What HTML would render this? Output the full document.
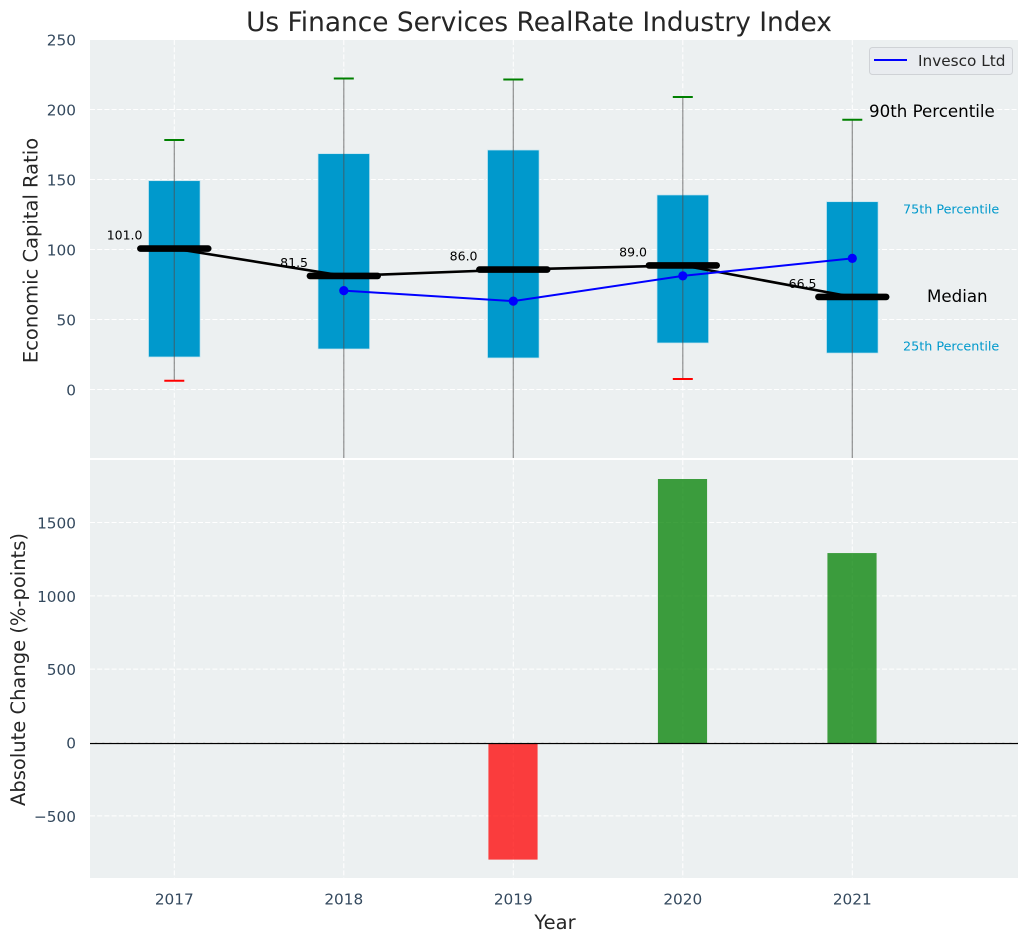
<!DOCTYPE html>
<html lang="en">
<head>
<meta charset="utf-8">
<title>Us Finance Services RealRate Industry Index</title>
<style>
html,body{margin:0;padding:0;background:#fff;}
svg{display:block;font-family:"DejaVu Sans","Liberation Sans",sans-serif;}
</style>
</head>
<body>
<svg id="chart" xmlns="http://www.w3.org/2000/svg" width="1029" height="942" viewBox="0 0 1029 942">
  <defs>
    <clipPath id="clip-top"><rect x="90" y="40" width="928" height="418"></rect></clipPath>
    <clipPath id="clip-bottom"><rect x="90" y="460" width="928" height="418"></rect></clipPath>
  </defs>
  <rect x="0" y="0" width="1029" height="942" fill="#ffffff"></rect>
  <rect x="90" y="40" width="928" height="418" fill="#ecf0f1"></rect>
  <rect x="90" y="460" width="928" height="418" fill="#ecf0f1"></rect>
  <g id="grid-top"></g>
  <g id="grid-bottom"></g>
  <g id="ticks"></g>
  <g id="boxes" clip-path="url(#clip-top)"></g>
  <g id="medians" clip-path="url(#clip-top)"></g>
  <g id="invesco" clip-path="url(#clip-top)"></g>
  <g id="median-labels"></g>
  <g id="bars" clip-path="url(#clip-bottom)"></g>
  <line x1="90" x2="1018" y1="743.5" y2="743.5" stroke="#000000" stroke-width="1.3"></line>

  <text x="539" y="31" text-anchor="middle" font-size="26.4" fill="#262626">Us Finance Services RealRate Industry Index</text>
  <text transform="translate(37.5,250.5) rotate(-90)" text-anchor="middle" font-size="19.5" fill="#262626">Economic Capital Ratio</text>
  <text transform="translate(25,669.5) rotate(-90)" text-anchor="middle" font-size="19.5" fill="#262626">Absolute Change (%-points)</text>
  <text x="555" y="929" text-anchor="middle" font-size="19.5" fill="#262626">Year</text>

  <text x="869" y="117" font-size="16.67" fill="#000000">90th Percentile</text>
  <text x="903" y="213.5" font-size="12.75" fill="#0099cc">75th Percentile</text>
  <text x="927" y="302" font-size="16.67" fill="#000000">Median</text>
  <text x="903" y="350.5" font-size="12.75" fill="#0099cc">25th Percentile</text>

  <g>
    <rect x="869.5" y="47.5" width="143" height="27" rx="3" ry="3" fill="#e9ecf0" stroke="#cfd2d6" stroke-width="1"></rect>
    <line x1="874" x2="907" y1="60" y2="60" stroke="#0000ff" stroke-width="2"></line>
    <text x="918" y="66" font-size="15.3" fill="#262626">Invesco Ltd</text>
  </g>
</svg>
<script>
const years = [2017, 2018, 2019, 2020, 2021];
const p90 = [178.6, 222.5, 221.8, 209.3, 193];
const p75 = [149.5, 168.8, 171.4, 139.3, 134.5];
const medianValues = [101.0, 81.5, 86.0, 89.0, 66.5];
const p25 = [23.6, 29.3, 22.9, 33.6, 26.4];
const p10 = [6.6, -90, -90, 7.9, -90];
const invescoYears = [2018, 2019, 2020, 2021];
const invescoValues = [71, 63.5, 81.5, 94];
const absoluteChange = [0, 0, -795, 1800, 1295];
const topTicks = [0, 50, 100, 150, 200, 250];
const bottomTicks = [-500, 0, 500, 1000, 1500];

const NS = 'http://www.w3.org/2000/svg';
const BOX_WIDTH = 0.304;
const BAR_WIDTH = 0.29;
const MEDIAN_WIDTH = 0.4;
const CAP_WIDTH = 0.118;

function xScale(v) { return 174.3 + (v - 2017) * 169.5; }
function yTop(v) { return 390 - v * 1.4; }
function yBottom(v) { return 743 - v * 0.14667; }

function make(tag, parentId, attrs, text) {
  const el = document.createElementNS(NS, tag);
  for (const k in attrs) el.setAttribute(k, attrs[k]);
  if (text !== undefined) el.textContent = text;
  document.getElementById(parentId).appendChild(el);
  return el;
}
const gridStyle = { stroke: '#ffffff', 'stroke-width': 1, 'stroke-dasharray': '5 2.2' };

topTicks.forEach(function (t) {
  const g = make('line', 'grid-top', Object.assign({ x1: 90, x2: 1018, y1: yTop(t) - 0.5, y2: yTop(t) - 0.5 }, gridStyle));
  
  
  const lab = make('text', 'ticks', { x: 76, y: yTop(t) + 5.5, 'text-anchor': 'end', 'font-size': 15.3, fill: '#34495e' }, String(t));
  
  
});

bottomTicks.forEach(function (t) {
  const g = make('line', 'grid-bottom', Object.assign({ x1: 90, x2: 1018, y1: yBottom(t) - 0.5, y2: yBottom(t) - 0.5 }, gridStyle));
  
  
  const lab = make('text', 'ticks', { x: 76, y: yBottom(t) + 5.5, 'text-anchor': 'end', 'font-size': 15.3, fill: '#34495e' }, String(t).replace('-', '\u2212'));
  
  
});

years.forEach(function (yr, i) {
  const x = xScale(yr);
  const g1 = make('line', 'grid-top', Object.assign({ x1: x, x2: x, y1: 40, y2: 458 }, gridStyle));
  
  
  const g2 = make('line', 'grid-bottom', Object.assign({ x1: x, x2: x, y1: 460, y2: 878 }, gridStyle));
  
  
  const lab = make('text', 'ticks', { x: x, y: 904.5, 'text-anchor': 'middle', 'font-size': 15.3, fill: '#34495e' }, String(yr));
  
  

  const half = BOX_WIDTH / 2;
  const box = make('rect', 'boxes', {
    x: xScale(yr - half), y: yTop(p75[i]),
    width: xScale(yr + half) - xScale(yr - half),
    height: yTop(p25[i]) - yTop(p75[i]),
    fill: '#0099cc', stroke: '#bfe3ef', 'stroke-width': 0.7
  });
  
  

  const whisker = make('line', 'boxes', { x1: x, x2: x, y1: yTop(p90[i]), y2: yTop(p10[i]), stroke: '#4d4d4d', 'stroke-width': 1.2, 'stroke-opacity': 0.62 });
  
  

  const capHigh = make('line', 'boxes', { x1: xScale(yr - CAP_WIDTH / 2), x2: xScale(yr + CAP_WIDTH / 2), y1: yTop(p90[i]), y2: yTop(p90[i]), stroke: '#008000', 'stroke-width': 2 });
  
  

  const capLow = make('line', 'boxes', { x1: xScale(yr - CAP_WIDTH / 2), x2: xScale(yr + CAP_WIDTH / 2), y1: yTop(p10[i]), y2: yTop(p10[i]), stroke: '#ff0000', 'stroke-width': 2 });
  
  

  const medBar = make('line', 'medians', {
    x1: xScale(yr - MEDIAN_WIDTH / 2), x2: xScale(yr + MEDIAN_WIDTH / 2),
    y1: yTop(medianValues[i]), y2: yTop(medianValues[i]),
    stroke: '#000000', 'stroke-width': 6.6, 'stroke-linecap': 'round'
  });
  
  

  const medLab = make('text', 'median-labels', { x: x - 49.7, y: yTop(medianValues[i]) - 9, 'text-anchor': 'middle', 'font-size': 12.5, fill: '#000000' }, medianValues[i].toFixed(1));
  
  

  if (absoluteChange[i] !== 0) {
    const top = Math.min(yBottom(absoluteChange[i]), yBottom(0));
    const bar = make('rect', 'bars', {
      x: xScale(yr - BAR_WIDTH / 2) - 0.3, y: top,
      width: xScale(yr + BAR_WIDTH / 2) - xScale(yr - BAR_WIDTH / 2),
      height: Math.abs(yBottom(absoluteChange[i]) - yBottom(0)),
      fill: absoluteChange[i] > 0 ? '#008000' : '#ff0000', 'fill-opacity': 0.75
    });
    
    
  }
});

const medianLine = make('polyline', 'medians', {
  points: years.map(function (yr, i) { return xScale(yr) + ',' + yTop(medianValues[i]); }).join(' '),
  fill: 'none', stroke: '#000000', 'stroke-width': 2.6
});



const invescoLine = make('polyline', 'invesco', {
  points: invescoYears.map(function (yr, i) { return xScale(yr) + ',' + yTop(invescoValues[i]); }).join(' '),
  fill: 'none', stroke: '#0000ff', 'stroke-width': 2
});



invescoYears.forEach(function (yr, i) {
  const pt = make('circle', 'invesco', { cx: xScale(yr), cy: yTop(invescoValues[i]), r: 4.6, fill: '#0000ff' });
  
  
});
</script>
</body>
</html>
